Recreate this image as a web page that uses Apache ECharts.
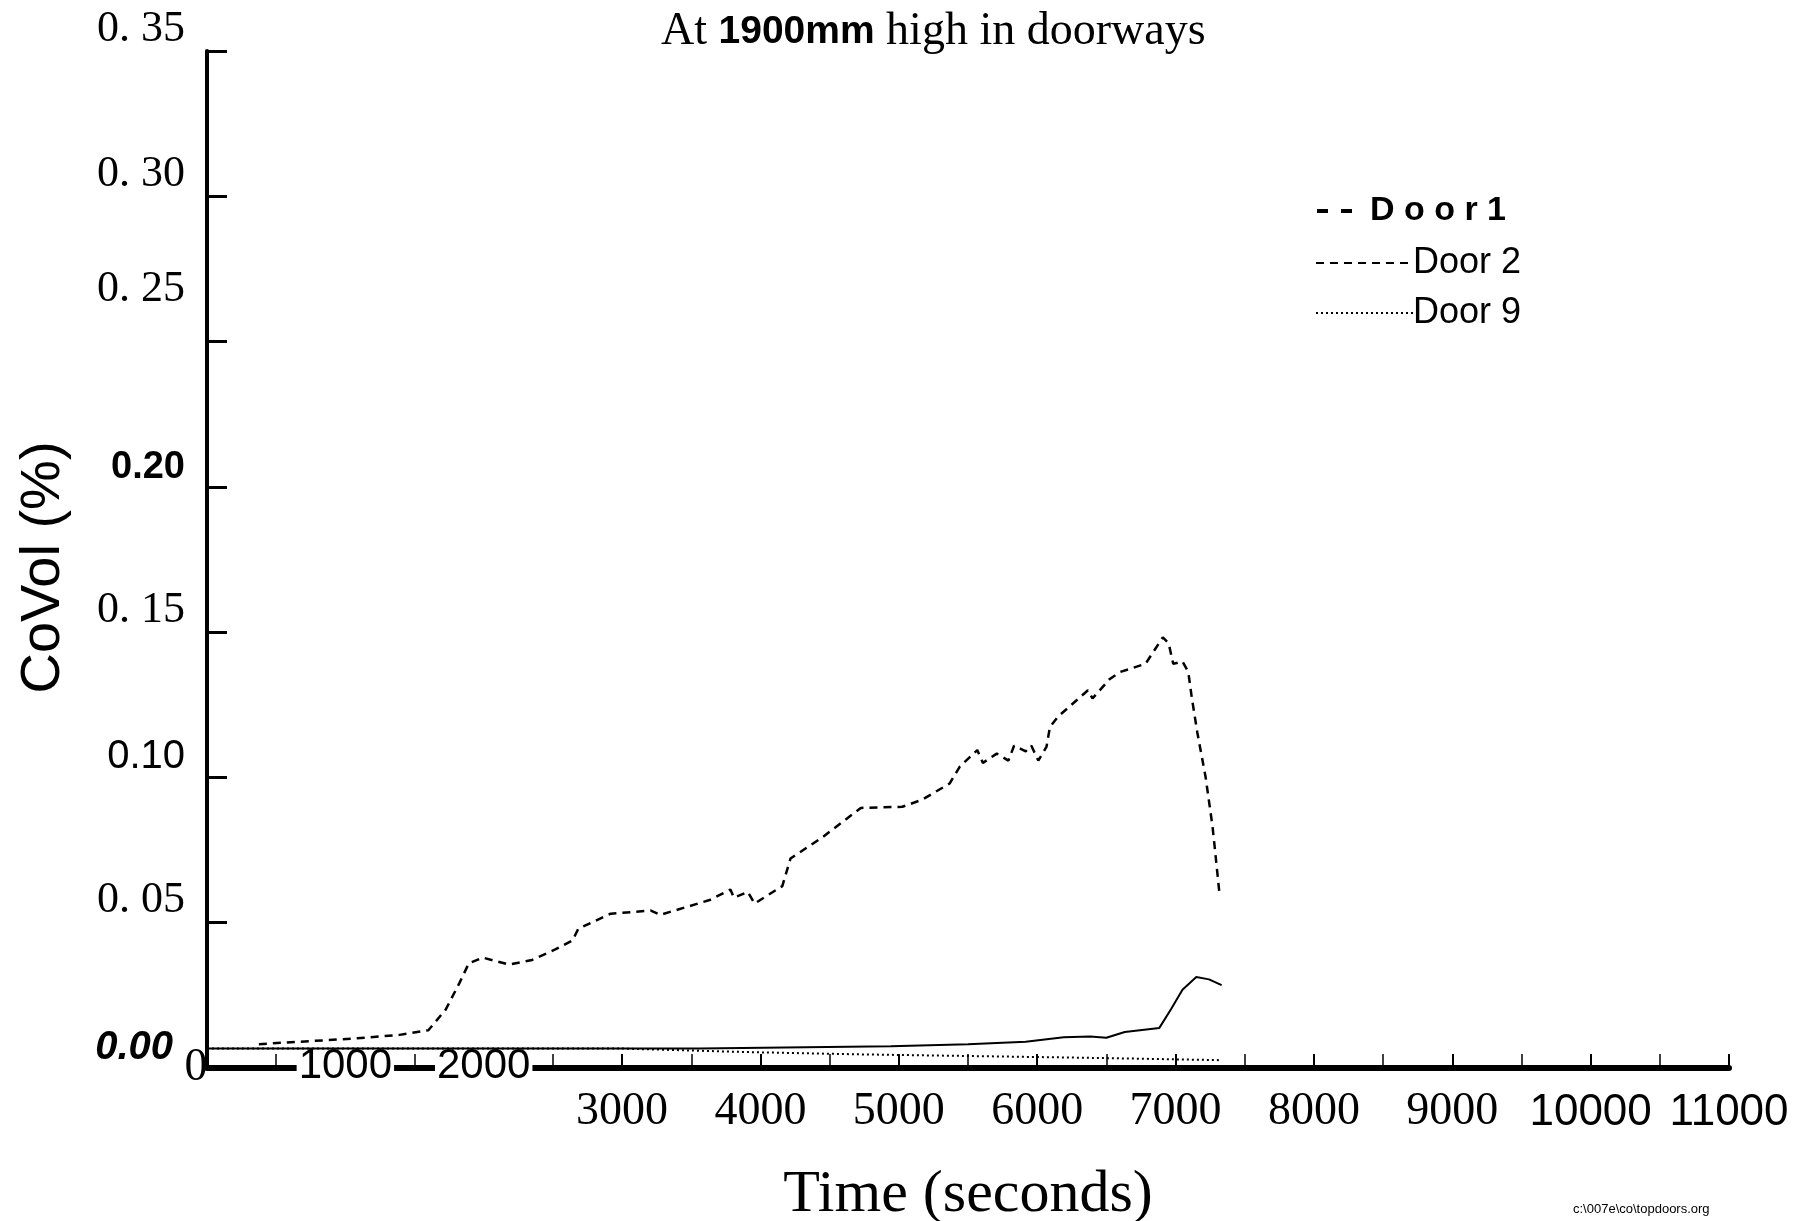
<!DOCTYPE html>
<html><head><meta charset="utf-8">
<script src="https://cdn.jsdelivr.net/npm/echarts@6/dist/echarts.min.js"></script>
<style>html,body{margin:0;padding:0;background:#fff}#c{width:1807px;height:1221px}</style>
</head><body><div id="c"></div>
<script>
// ---- data ----
const door2Time  = [375, 1083, 1392, 1600, 1725, 1825, 1892, 1992, 2183, 2350, 2517, 2642, 2683, 2917, 3208, 3275, 3633, 3783, 3808, 3908, 3958, 4158, 4217, 4442, 4725, 5025, 5167, 5367, 5442, 5567, 5608, 5708, 5792, 5833, 5917, 5958, 6008, 6067, 6092, 6150, 6300, 6367, 6400, 6525, 6600, 6783, 6908, 6950, 6983, 7050, 7092, 7117, 7158, 7217, 7267, 7283, 7317];
const door2Value = [0.0082, 0.0102, 0.0114, 0.0130, 0.0201, 0.0293, 0.0360, 0.0380, 0.0356, 0.0372, 0.0408, 0.0439, 0.0479, 0.0531, 0.0542, 0.0527, 0.0578, 0.0614, 0.0586, 0.0606, 0.0566, 0.0626, 0.0721, 0.0792, 0.0895, 0.0899, 0.0923, 0.0979, 0.1038, 0.1094, 0.1050, 0.1082, 0.1058, 0.1109, 0.1090, 0.1109, 0.1058, 0.1105, 0.1173, 0.1209, 0.1272, 0.1300, 0.1272, 0.1339, 0.1363, 0.1391, 0.1482, 0.1462, 0.1391, 0.1399, 0.1363, 0.1276, 0.1153, 0.1002, 0.0832, 0.0760, 0.0602];

const door1Time  = [0, 2967, 3558, 4942, 5500, 5917, 6192, 6383, 6500, 6633, 6883, 6967, 7050, 7150, 7242, 7333];
const door1Value = [0.0067, 0.0067, 0.0067, 0.0075, 0.0082, 0.0090, 0.0106, 0.0108, 0.0104, 0.0124, 0.0138, 0.0202, 0.0269, 0.0313, 0.0305, 0.0285];

const door9Time  = [0, 2992, 3883, 4708, 5542, 6375, 7325];
const door9Value = [0.0067, 0.0067, 0.0055, 0.0047, 0.0041, 0.0035, 0.0027];

const xTickLabels = ['0', '1000', '2000', '3000', '4000', '5000', '6000', '7000', '8000', '9000', '10000', '11000'];
const yTickLabels = ['0.00', '0. 05', '0.10', '0. 15', '0.20', '0. 25', '0. 30', '0. 35'];

// ---- styling keys (not data) ----
const xLabelStyle = ['z', 'ax', 'ax', 's', 's', 's', 's', 's', 's', 's', 'n', 'n'];
const yLabelStyle = ['i', 's', 'n', 's', 'b', 's2', 's', 's'];

const zip = (a, b) => a.map((t, i) => [t, b[i]]);

const hiddenSymbol = {color: 'rgba(0,0,0,0)', borderWidth: 0, opacity: 0};

const chart = echarts.init(document.getElementById('c'), null, {renderer: 'canvas'});
chart.setOption({
  animation: false,
  backgroundColor: '#fff',
  title: {
    text: '{a|At }{b|1900mm}{a| high in doorways}',
    left: 656, top: 4,
    textStyle: {
      fontWeight: 'normal',
      rich: {
        a: {fontFamily: 'Liberation Serif', fontSize: 46, fontWeight: 'normal', color: '#000'},
        b: {fontFamily: 'Liberation Sans', fontSize: 39, fontWeight: 'bold', color: '#000'}
      }
    }
  },
  legend: [
    {
      selectedMode: false, left: 1310, top: 189, itemWidth: 36, itemHeight: 14,
      itemStyle: hiddenSymbol,
      data: [{name: 'Door 1', lineStyle: {type: [11, 13], width: 4, color: '#000'}}],
      formatter: () => 'D o o r 1',
      textStyle: {fontFamily: 'Liberation Sans', fontSize: 34, fontWeight: 'bold', color: '#000', padding: [0, 0, 0, 12]}
    },
    {
      selectedMode: false, left: 1310, top: 240, itemWidth: 98, itemHeight: 14,
      itemStyle: hiddenSymbol,
      data: ['Door 2'],
      textStyle: {fontFamily: 'Liberation Sans', fontSize: 36, color: '#000', padding: [0, 0, 0, -6]}
    },
    {
      selectedMode: false, left: 1310, top: 290, itemWidth: 98, itemHeight: 14,
      itemStyle: hiddenSymbol,
      data: ['Door 9'],
      textStyle: {fontFamily: 'Liberation Sans', fontSize: 36, color: '#000', padding: [0, 0, 0, -6]}
    }
  ],
  grid: {left: 207, right: 78, top: 51, bottom: 153, containLabel: false, outerBoundsMode: 'none'},
  xAxis: {
    type: 'value', min: 0, max: 11000, interval: 1000,
    name: 'Time (seconds)', nameLocation: 'middle', nameGap: 97,
    nameTextStyle: {fontFamily: 'Liberation Serif', fontSize: 60, color: '#000'},
    axisLine: {lineStyle: {color: '#000', width: 6}},
    axisTick: {inside: true, length: 14, lineStyle: {color: '#000', width: 2}},
    minorTick: {show: true, splitNumber: 2, length: 14, lineStyle: {color: '#000', width: 1.5}},
    splitLine: {show: false},
    axisLabel: {
      margin: -23, color: '#000',
      formatter: function (v) {
        const i = Math.round(v / 1000);
        return '{' + xLabelStyle[i] + '|' + xTickLabels[i] + '}';
      },
      rich: {
        z: {fontFamily: 'Liberation Serif', fontSize: 46, color: '#000', padding: [0, 22, 0, 0]},
        ax: {fontFamily: 'Liberation Sans', fontSize: 42, color: '#000', backgroundColor: '#fff', padding: [0, 2, 0, 2]},
        s: {fontFamily: 'Liberation Serif', fontSize: 46, color: '#000', padding: [44, 0, 0, 0]},
        n: {fontFamily: 'Liberation Sans', fontSize: 44, color: '#000', padding: [46, 0, 0, 0]}
      }
    }
  },
  yAxis: {
    type: 'value', min: 0, max: 0.35, interval: 0.05,
    name: 'CoVol (%)', nameLocation: 'middle', nameRotate: 90, nameGap: 135,
    nameTextStyle: {fontFamily: 'Liberation Sans', fontSize: 56, color: '#000', padding: [0, 16, 0, 0]},
    axisLine: {show: true, lineStyle: {color: '#000', width: 4}},
    axisTick: {show: true, inside: true, length: 20, lineStyle: {color: '#000', width: 3}},
    splitLine: {show: false},
    axisLabel: {
      margin: 22, color: '#000', verticalAlign: 'bottom',
      formatter: function (v) {
        const i = Math.round(v / 0.05);
        return '{' + yLabelStyle[i] + '|' + yTickLabels[i] + '}';
      },
      rich: {
        s: {fontFamily: 'Liberation Serif', fontSize: 44, color: '#000'},
        s2: {fontFamily: 'Liberation Serif', fontSize: 44, color: '#000', padding: [0, 0, 30, 0]},
        b: {fontFamily: 'Liberation Sans', fontSize: 38, fontWeight: 'bold', color: '#000'},
        n: {fontFamily: 'Liberation Sans', fontSize: 40, color: '#000'},
        i: {fontFamily: 'Liberation Sans', fontSize: 40, fontStyle: 'italic', fontWeight: 'bold', color: '#000', padding: [0, 12, 0, 0]}
      }
    }
  },
  series: [
    {
      name: 'Door 1', type: 'line', symbol: 'none', showSymbol: false, silent: true,
      itemStyle: {color: '#000'},
      lineStyle: {color: '#000', width: 2, type: 'solid'},
      data: zip(door1Time, door1Value)
    },
    {
      name: 'Door 2', type: 'line', symbol: 'none', showSymbol: false, silent: true,
      itemStyle: {color: '#000'},
      lineStyle: {color: '#000', width: 2.5, type: [8, 6]},
      data: zip(door2Time, door2Value)
    },
    {
      name: 'Door 9', type: 'line', symbol: 'none', showSymbol: false, silent: true,
      itemStyle: {color: '#000'},
      lineStyle: {color: '#000', width: 2, type: [2, 3]},
      data: zip(door9Time, door9Value)
    }
  ],
  graphic: [
    {type: 'text', left: 1573, top: 1203, style: {text: 'c:\\007e\\co\\topdoors.org', font: '13px "Liberation Sans"', fill: '#000'}}
  ]
});
</script>
</body></html>
